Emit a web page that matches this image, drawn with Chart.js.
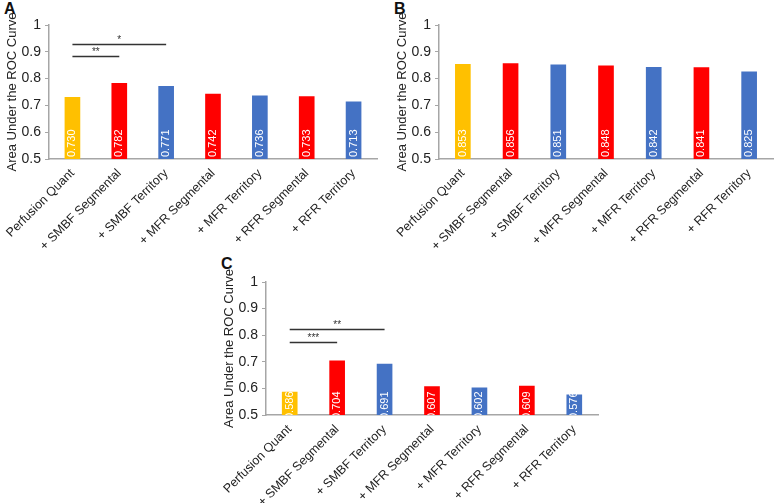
<!DOCTYPE html>
<html>
<head>
<meta charset="utf-8">
<script src="https://cdn.jsdelivr.net/npm/chart.js@4"></script>
<style>
  body { margin: 0; background: #fff; width: 780px; height: 503px; position: relative; overflow: hidden; }
  canvas { position: absolute; }
  .letter { position: absolute; font: bold 16px "Liberation Sans", Arial, sans-serif; color: #111; }
</style>
</head>
<body>
<div class="letter" style="left:4px;top:0px">A</div>
<div class="letter" style="left:394px;top:0px">B</div>
<div class="letter" style="left:221px;top:255px">C</div>
<canvas id="chartA" width="390" height="250" style="left:0;top:0"></canvas>
<canvas id="chartB" width="390" height="250" style="left:390px;top:0"></canvas>
<canvas id="chartC" width="390" height="253" style="left:217px;top:250px"></canvas>
<script>
const categories = [
  "Perfusion Quant",
  "+ SMBF Segmental",
  "+ SMBF Territory",
  "+ MFR Segmental",
  "+ MFR Territory",
  "+ RFR Segmental",
  "+ RFR Territory",
];
const aucA = [0.730, 0.782, 0.771, 0.742, 0.736, 0.733, 0.713];
const aucB = [0.853, 0.856, 0.851, 0.848, 0.842, 0.841, 0.825];
const aucC = [0.586, 0.704, 0.691, 0.607, 0.602, 0.609, 0.576];
const barColors = ["#FFC000", "#FF0000", "#4472C4", "#FF0000", "#4472C4", "#FF0000", "#4472C4"];
// significance bars: [from index, to index, level (AUC units), stars]
const sigA = [[0, 1, 0.884, "**"], [0, 2, 0.929, "*"]];
const sigB = [];
const sigC = [[0, 1, 0.774, "***"], [0, 2, 0.823, "**"]];

const FONT = "'Liberation Sans', Arial, sans-serif";

// white rotated values inside bars + significance lines
const annotations = {
  id: "annotations",
  afterDatasetsDraw(chart, args, opts) {
    const ctx = chart.ctx;
    const area = chart.chartArea;
    const meta = chart.getDatasetMeta(0);
    const values = chart.data.datasets[0].data;
    ctx.save();
    ctx.beginPath();
    ctx.rect(area.left, area.top, area.right - area.left, area.bottom - area.top);
    ctx.clip();
    ctx.fillStyle = "#fff";
    ctx.font = "11px " + FONT;
    ctx.textAlign = "left";
    ctx.textBaseline = "middle";
    meta.data.forEach((bar, i) => {
      ctx.save();
      ctx.translate(bar.x, area.bottom - opts.shift);
      ctx.rotate(-Math.PI / 2);
      ctx.fillText(values[i].toFixed(3), 0, 0);
      ctx.restore();
    });
    ctx.restore();

    const xs = chart.scales.x, ys = chart.scales.y;
    ctx.save();
    ctx.strokeStyle = "#333";
    ctx.fillStyle = "#333";
    ctx.lineWidth = 1.5;
    ctx.font = "10px " + FONT;
    ctx.textAlign = "center";
    ctx.textBaseline = "bottom";
    (opts.sig || []).forEach(([a, b, level, stars]) => {
      const x1 = xs.getPixelForValue(a), x2 = xs.getPixelForValue(b);
      const y = Math.round(ys.getPixelForValue(level)) + 0.5;
      ctx.beginPath();
      ctx.moveTo(x1, y);
      ctx.lineTo(x2, y);
      ctx.stroke();
      ctx.fillText(stars, (x1 + x2) / 2, y + 1);
    });
    ctx.restore();
  },
};

function makePanel(id, values, sig, pad, xHeight, shift) {
  return new Chart(document.getElementById(id), {
    type: "bar",
    data: {
      labels: categories,
      datasets: [{ data: values, backgroundColor: barColors, barThickness: 15 }],
    },
    plugins: [annotations],
    options: {
      responsive: false,
      animation: false,
      layout: { padding: pad },
      plugins: {
        legend: { display: false },
        tooltip: { enabled: false },
        annotations: { sig: sig, shift: shift },
      },
      scales: {
        x: {
          grid: { drawOnChartArea: false, drawTicks: false },
          border: { color: "#a6a6a6", width: 1.5 },
          ticks: {
            maxRotation: 45,
            minRotation: 45,
            padding: 7,
            color: "#222",
            font: { family: FONT, size: 12.5 },
          },
          afterFit(scale) {
            scale.height = xHeight;
            scale.paddingLeft = 0;
            scale.paddingRight = 0;
          },
        },
        y: {
          min: 0.5,
          max: 1,
          ticks: {
            stepSize: 0.1,
            padding: 4,
            color: "#222",
            font: { family: FONT, size: 14 },
            callback: (v) => (v === 1 ? "1" : v.toFixed(1)),
          },
          grid: { drawOnChartArea: false, tickLength: 4, color: "#a6a6a6" },
          border: { color: "#a6a6a6", width: 1.5 },
          title: {
            display: true,
            text: "Area Under the ROC Curve",
            color: "#222",
            font: { family: FONT, size: 13 },
            padding: { top: 5, bottom: 2 },
          },
          afterFit(scale) {
            scale.width = 49;
          },
        },
      },
    },
  });
}

makePanel("chartA", aucA, sigA, { top: 25, right: 13, left: 0, bottom: 0 }, 91, 2);
makePanel("chartB", aucB, sigB, { top: 25, right: 7, left: 0, bottom: 0 }, 91, 2);
makePanel("chartC", aucC, sigC, { top: 32, right: 9, left: 0, bottom: 0 }, 88, -4);
</script>
</body>
</html>
